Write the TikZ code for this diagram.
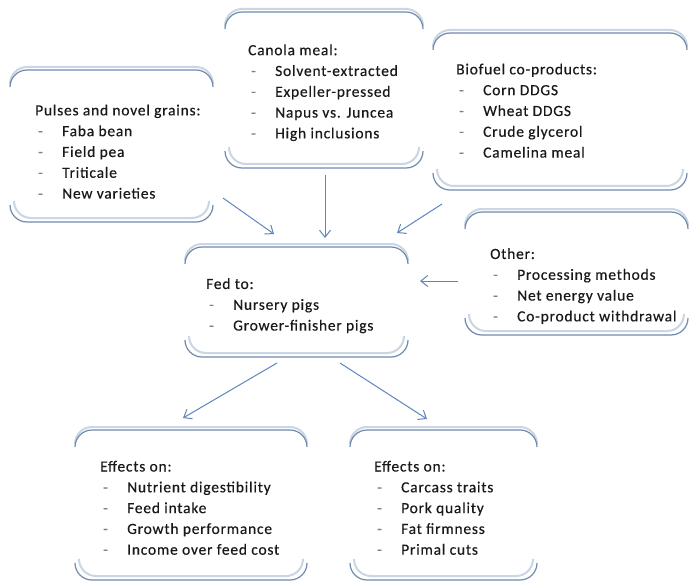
\documentclass[tikz,border=0pt]{standalone}
\usepackage{fontspec}
\setmainfont{Carlito}[LetterSpace=5, FakeBold=0.35]
\usetikzlibrary{arrows.meta}
\definecolor{edgedark}{HTML}{6F8AAE}
\definecolor{edgelight}{HTML}{CBD6E4}
\definecolor{arrowc}{HTML}{5F86BC}
\newcommand\cbox[4]{%
  \draw[edgeL] (#1,#2+13) -- (#1,#2-3) -- (#3,#2-3) -- (#3,#2+13);
  \draw[edgeD] (#1,#2+17) -- (#1,#2) -- (#3,#2) -- (#3,#2+17);
  \draw[edgeL] (#1+4,#4-20) -- (#1+4,#4-4) -- (#3-4,#4-4) -- (#3-4,#4-20);
  \draw[edgeD] (#1,#4-17) -- (#1,#4) -- (#3,#4) -- (#3,#4-17);
}
\newcommand\itm[1]{\\\hspace*{3pt}\makebox[24pt][l]{\textcolor{black!50}{-}}#1}
\begin{document}
\begin{tikzpicture}[x=1pt,y=-1pt]
\tikzset{
 edgeL/.style={draw=edgelight, line width=2pt, rounded corners=17pt},
 edgeD/.style={draw=edgedark, line width=1.2pt, rounded corners=17pt},
 txt/.style={anchor=north west, inner sep=0pt, align=left, font=\fontsize{15.5}{20.8}\selectfont, text=black!90},
 conn/.style={draw=arrowc, line width=1pt, -{Straight Barb[length=7pt,width=11pt]}}
}
\useasboundingbox (0,0) rectangle (691,583);
\fill[white] (0,0) rectangle (691,583);
% boxes
\cbox{10}{70}{213}{222}
\cbox{225}{12}{423}{168}
\cbox{433}{33}{687}{190}
\cbox{185}{247}{408}{357}
\cbox{465}{212}{688}{335}
\cbox{75}{430}{307}{580}
\cbox{350}{430}{537}{580}
% texts
\node[txt] (pulses) at (35,104.4) {Pulses and novel grains:\itm{Faba bean}\itm{Field pea}\itm{Triticale}\itm{New varieties}};
\node[txt] (canola) at (248,44.2) {Canola meal:\itm{Solvent-extracted}\itm{Expeller-pressed}\itm{Napus vs. Juncea}\itm{High inclusions}};
\node[txt] (biofuel) at (456,63.4) {Biofuel co-products:\itm{Corn DDGS}\itm{Wheat DDGS}\itm{Crude glycerol}\itm{Camelina meal}};
\node[txt] (fed) at (206,278) {Fed to:\itm{Nursery pigs}\itm{Grower-finisher pigs}};
\node[txt] (other) at (490,248) {Other:\itm{Processing methods}\itm{Net energy value}\itm{Co-product withdrawal}};
\node[txt] (effl) at (100,460.6) {Effects on:\itm{Nutrient digestibility}\itm{Feed intake}\itm{Growth performance}\itm{Income over feed cost}};
\node[txt] (effr) at (374,460.6) {Effects on:\itm{Carcass traits}\itm{Pork quality}\itm{Fat firmness}\itm{Primal cuts}};
% connector ends
\coordinate (p1) at (223,198); \coordinate (q1) at (274,234);
\coordinate (p2) at (325,175); \coordinate (q2) at (325,238);
\coordinate (p3) at (442,204); \coordinate (q3) at (397,233);
\coordinate (p4) at (458,281); \coordinate (q4) at (420,281);
\coordinate (p5) at (277,363); \coordinate (q5) at (183,418);
\coordinate (p6) at (340,363); \coordinate (q6) at (427,419);
\draw[conn] (p1) -- (q1);
\draw[conn] (p2) -- (q2);
\draw[conn] (p3) -- (q3);
\draw[conn] (p4) -- (q4);
\draw[conn] (p5) -- (q5);
\draw[conn] (p6) -- (q6);
\end{tikzpicture}
\end{document}
